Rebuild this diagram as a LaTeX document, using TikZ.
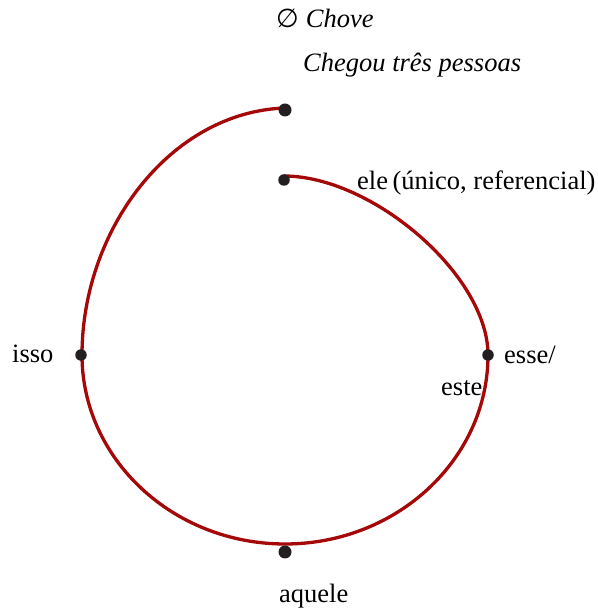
\documentclass[tikz,border=0pt]{standalone}
\usepackage{fontspec}
\setmainfont{Liberation Serif}
\newfontfamily\symbfont{DejaVu Sans}
\definecolor{curvered}{RGB}{165,8,8}
\definecolor{dotgray}{RGB}{35,31,32}
\begin{document}
\begin{tikzpicture}[x=1pt,y=1pt,
  dotbig/.style={circle,fill=dotgray,inner sep=0pt,minimum size=13pt},
  dotsmall/.style={circle,fill=dotgray,inner sep=0pt,minimum size=11.5pt},
  curveline/.style={draw=curvered,line width=3.3pt},
  lbl/.style={anchor=base west,inner sep=0pt,font=\fontsize{26.5}{31}\selectfont},
  lbli/.style={anchor=base west,inner sep=0pt,font=\fontsize{26.5}{31}\selectfont\itshape}]
\useasboundingbox (0,0) rectangle (597,610);
% curve points
\coordinate (cstart) at (284,434);
\coordinate (cright) at (488,255);
\coordinate (cbot) at (285,66);
\coordinate (cleft) at (82,255);
\coordinate (ctop) at (285,502);
\draw[curveline] (cstart) .. controls (372,434) and (488,335) .. (cright)
  .. controls (488,151) and (397,66) .. (cbot)
  .. controls (173,66) and (82,151) .. (cleft)
  .. controls (82,380) and (170,498) .. (ctop);
% dots
\node[dotsmall] (dstart) at (284,430) {};
\node[dotbig] (dtop) at (285,500) {};
\node[dotsmall] (dright) at (488,255) {};
\node[dotsmall] (dleft) at (81,255) {};
\node[dotbig] (dbot) at (285,58) {};
% labels
\node[lbl] (l0) at (276,582) {{\symbfont\fontsize{26}{30}\selectfont ∅}\kern7pt\textit{Chove}};
\node[lbli] (l1) at (303,538) {Chegou três pessoas};
\node[lbl] (l2) at (357,420) {ele\,(único, referencial)};
\node[lbl] (l3) at (504,246) {esse/};
\node[lbl] (l4) at (441,214) {este};
\node[lbl] (l5) at (12,247) {isso};
\node[lbl] (l6) at (279,8) {aquele};
\end{tikzpicture}
\end{document}
